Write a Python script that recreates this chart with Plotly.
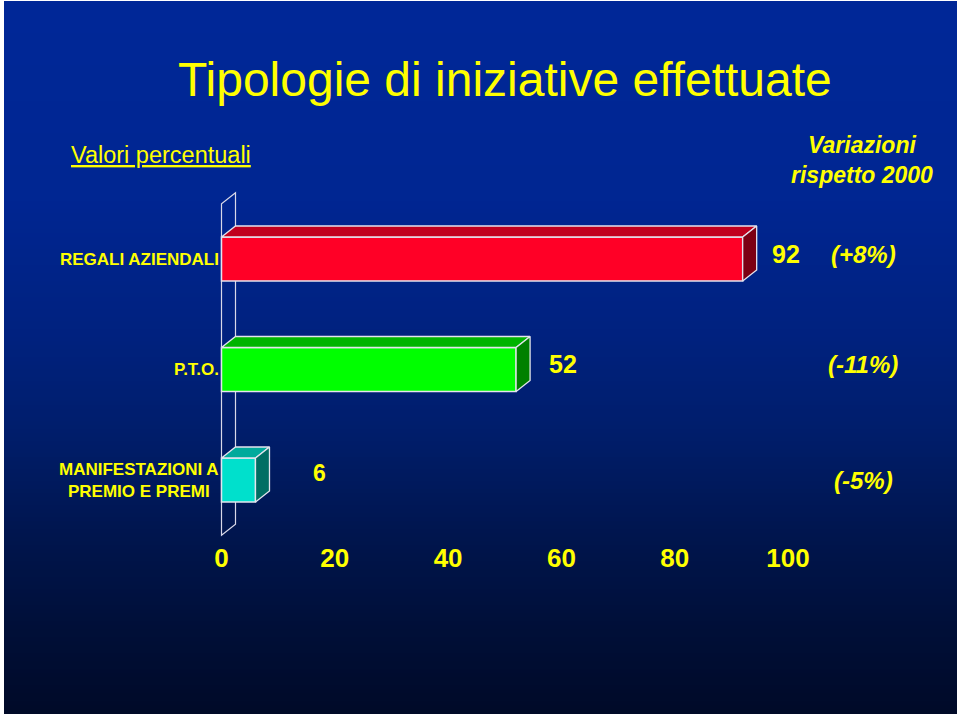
import numpy as np
import plotly.graph_objects as go

# ---------------- data ----------------
categories = ["REGALI AZIENDALI", "P.T.O.", "MANIFESTAZIONI A<br>PREMIO E PREMI"]
values = [92, 52, 6]
variations = ["(+8%)", "(-11%)", "(-5%)"]
x_ticks = [0, 20, 40, 60, 80, 100]
title_text = "Tipologie di iniziative effettuate"
subtitle_left = "Valori percentuali"
subtitle_right = "Variazioni<br>rispetto 2000"

# ---------------- styles ----------------
front_colors = ["#ff0026", "#00ff00", "#00e0cc"]
top_colors = ["#c0001e", "#00b400", "#00aa9c"]
side_colors = ["#7c0014", "#008000", "#006e64"]
edge_color = "#e4e4ee"
yellow = "#ffff00"
FONT = "Arial, Liberation Sans, sans-serif"

W, H = 960, 716
X0_PX, X100_PX = 221.5, 788.0
kx = (X100_PX - X0_PX) / 100.0
xr = [-X0_PX / kx, (W - X0_PX) / kx]
Y0_PX, STEP_PX = 259.0, 110.5
yr = [(H - Y0_PX) / STEP_PX, -Y0_PX / STEP_PX]
BAR_W = 44 / STEP_PX
DX = 14 / kx
DY = 11 / STEP_PX
ypos = list(range(len(categories)))

# value label placement (pixel offsets from bar end / centre) and sizes
val_off_px = [28, 32, 57]
val_dy_px = [5, 6, 7]
val_size = [25, 25, 23]
var_dy_px = [5, 5, 0]

fig = go.Figure()

# front faces
fig.add_trace(go.Bar(
    x=values, y=ypos, orientation="h", width=BAR_W, base=0,
    marker=dict(color=front_colors, line=dict(color=edge_color, width=1.5)),
    hoverinfo="skip", showlegend=False,
))

# top & side faces
for v, yc, tc, sc in zip(values, ypos, top_colors, side_colors):
    yt = yc - BAR_W / 2
    yb = yc + BAR_W / 2
    fig.add_trace(go.Scatter(
        x=[0, v, v + DX, DX, 0], y=[yt, yt, yt - DY, yt - DY, yt],
        mode="lines", fill="toself", fillcolor=tc,
        line=dict(color=edge_color, width=1.3), hoverinfo="skip", showlegend=False,
    ))
    fig.add_trace(go.Scatter(
        x=[v, v + DX, v + DX, v, v], y=[yt, yt - DY, yb - DY, yb, yt],
        mode="lines", fill="toself", fillcolor=sc,
        line=dict(color=edge_color, width=1.3), hoverinfo="skip", showlegend=False,
    ))

shapes = []
# gradient background (blue area inside white frame)
stops_px = [0, 200, 330, 430, 530, 620, 716]
stops_rgb = np.array([[0, 40, 152], [0, 38, 146], [0, 34, 128], [0, 30, 108],
                      [0, 22, 80], [0, 16, 58], [0, 10, 40]], dtype=float)
top_px, bot_px, left_px, right_px = 1, 714, 4, 957
band = 4
for y in range(top_px, bot_px, band):
    y2 = min(y + band, bot_px)
    c = [np.interp(y + band / 2, stops_px, stops_rgb[:, k]) for k in range(3)]
    shapes.append(dict(
        type="rect", xref="paper", yref="paper", layer="below",
        x0=left_px / W, x1=right_px / W, y0=1 - y2 / H, y1=1 - y / H,
        fillcolor=f"rgb({int(c[0])},{int(c[1])},{int(c[2])})", line=dict(width=0),
    ))

# back wall (outline only)
yw_t = ypos[0] - 0.5
yw_b = ypos[-1] + 0.5
shapes.append(dict(
    type="path", xref="x", yref="y", layer="below",
    path=f"M 0,{yw_b} L 0,{yw_t} L {DX},{yw_t - DY} L {DX},{yw_b - DY} Z",
    line=dict(color="#d8d8e8", width=1.2), fillcolor="rgba(0,0,0,0)",
))

annotations = []
# title
annotations.append(dict(
    text=title_text, xref="paper", yref="paper", x=504.5 / W, y=1 - 79.5 / H,
    xanchor="center", yanchor="middle", showarrow=False,
    font=dict(family=FONT, size=48, color=yellow),
))
annotations.append(dict(
    text=f"<u>{subtitle_left}</u>", xref="paper", yref="paper", x=160.5 / W, y=1 - 155 / H,
    xanchor="center", yanchor="middle", showarrow=False,
    font=dict(family=FONT, size=23.5, color=yellow),
))
annotations.append(dict(
    text=f"<b><i>{subtitle_right}</i></b>".replace("<br>", "</i></b><br><b><i>"),
    xref="paper", yref="paper", x=862 / W, y=1 - 160 / H,
    xanchor="center", yanchor="middle", align="center", showarrow=False,
    font=dict(family=FONT, size=23, color=yellow),
))
# category labels
for cat, yc in zip(categories, ypos):
    annotations.append(dict(
        text=f"<b>{cat}</b>", xref="x", yref="y", x=0, y=yc, xshift=-1,
        xanchor="right", yanchor="middle", align="center", showarrow=False,
        font=dict(family=FONT, size=17, color=yellow),
    ))
# value labels
for v, yc, off, dyp, sz in zip(values, ypos, val_off_px, val_dy_px, val_size):
    annotations.append(dict(
        text=f"<b>{v}</b>", xref="x", yref="y", x=v, y=yc, xshift=off, yshift=dyp,
        xanchor="left", yanchor="middle", showarrow=False, borderpad=0,
        font=dict(family=FONT, size=sz, color=yellow),
    ))
# variation labels
for txt, yc, dyp in zip(variations, ypos, var_dy_px):
    annotations.append(dict(
        text=f"<b><i>{txt}</i></b>", xref="paper", yref="y", x=863 / W, y=yc, yshift=dyp,
        xanchor="center", yanchor="middle", showarrow=False,
        font=dict(family=FONT, size=24, color=yellow),
    ))

fig.update_layout(
    width=W, height=H, autosize=False,
    margin=dict(l=0, r=0, t=0, b=0, pad=0),
    paper_bgcolor="#ffffff", plot_bgcolor="rgba(0,0,0,0)",
    shapes=shapes, annotations=annotations, showlegend=False,
    xaxis=dict(
        range=xr, domain=[0, 1], anchor="free", position=1 - 540 / H,
        tickmode="array", tickvals=x_ticks, ticktext=[str(t) for t in x_ticks],
        tickfont=dict(family=FONT, size=26, color=yellow, weight="bold"),
        showgrid=False, zeroline=False, showline=False, ticks="",
        fixedrange=True,
    ),
    yaxis=dict(
        range=yr, domain=[0, 1], visible=False, showgrid=False, zeroline=False,
        fixedrange=True,
    ),
)

fig.write_html("out.html", config={"displayModeBar": False})
